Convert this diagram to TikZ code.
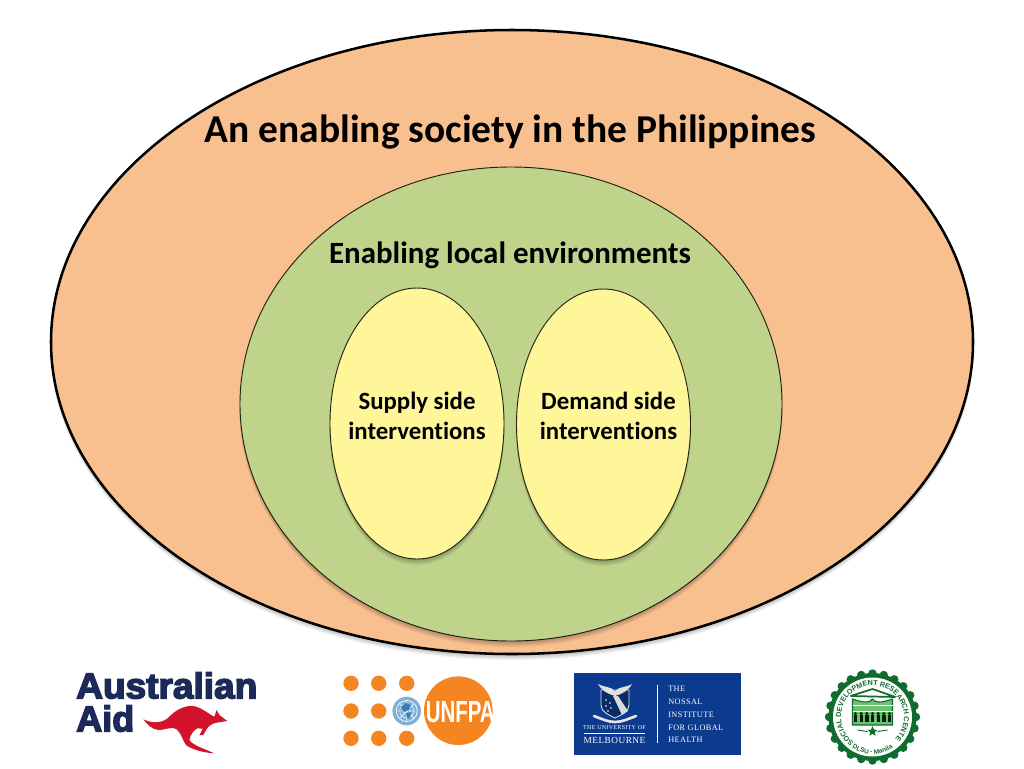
\documentclass[tikz,border=0pt]{standalone}
\usepackage{fontspec}
\usepackage{graphicx}
\usetikzlibrary{shapes.geometric,decorations.text}
\setmainfont[Ligatures=NoCommon]{Carlito}
\newfontfamily\logosans[FakeBold=4]{Liberation Sans Bold}
\newfontfamily\logoserif[LetterSpace=5]{Liberation Serif}
\newfontfamily\sealfont{Liberation Sans Bold}
\definecolor{peach}{HTML}{F9C08F}
\definecolor{leaf}{HTML}{BFD48A}
\definecolor{butter}{HTML}{FFF69A}
\definecolor{ausnavy}{HTML}{1B2A59}
\definecolor{ausred}{HTML}{D3122B}
\definecolor{unorange}{HTML}{F58521}
\definecolor{unblue}{HTML}{7FB1D8}
\definecolor{unblueb}{HTML}{3C7BB3}
\definecolor{melb}{HTML}{0B3A8E}
\definecolor{melbdark}{HTML}{0A2A66}
\definecolor{sealgreen}{HTML}{0F6B2E}
\definecolor{sealmid}{HTML}{6CC070}
\newcommand{\softshadow}[4]{%
  \foreach \k in {1,...,6}{%
    \fill[black,opacity=0.05] (#1,#2+\k*0.9) ellipse [x radius=#3+\k*0.2-0.6, y radius=#4+\k*0.2-0.6];
  }}
\tikzset{
  blob/.style={ellipse,inner sep=0pt,outer sep=0pt,draw=black},
  outerblob/.style={blob,fill=peach,line width=1.9pt,minimum width=691.5pt,minimum height=468pt},
  midblob/.style={blob,fill=leaf,draw=black!85!leaf,line width=0.7pt,minimum width=406.5pt,minimum height=355.5pt},
  smallblob/.style={blob,fill=butter,draw=black!85!butter,line width=0.7pt,minimum width=130.5pt,minimum height=203.25pt},
  label/.style={font=\bfseries,inner sep=0pt,align=center},
  dot/.style={circle,fill=unorange,minimum size=11.5pt,inner sep=0pt},
  melbtext/.style={text=white,inner sep=0pt,font=\logoserif\fontsize{6.2}{7}\selectfont},
}
\begin{document}
\begin{tikzpicture}[x=0.75pt,y=-0.75pt]
\useasboundingbox (0,0) rectangle (1024,768);
\fill[white] (0,0) rectangle (1024,768);

% nested ellipses
\softshadow{512}{342}{461}{312}
\node[outerblob] (society) at (512,342) {};
\softshadow{511}{404}{271}{237}
\node[midblob] (local) at (511,404) {};
\softshadow{417}{423.5}{87}{135.5}
\node[smallblob] (supply) at (417,423.5) {};
\softshadow{603.5}{424.5}{87}{135.5}
\node[smallblob] (demand) at (603.5,424.5) {};

\node[label,font=\bfseries\fontsize{29.6}{34}\selectfont] (title) at (510.5,132) {An enabling society in the Philippines};
\node[label,font=\bfseries\fontsize{23.2}{28}\selectfont] (envtitle) at (510,255.5) {Enabling local environments};
\node[label,font=\bfseries\fontsize{18.6}{23}\selectfont] (supplytext) at (417,416) {Supply side\\interventions};
\node[label,font=\bfseries\fontsize{18.6}{23}\selectfont] (demandtext) at (608.5,416) {Demand side\\interventions};

% Australian Aid
\node[anchor=south west,inner sep=0pt,text=ausnavy] (australian) at (76,699) {\resizebox{135.75pt}{19.5pt}{\logosans Australian}};
\node[anchor=south west,inner sep=0pt,text=ausnavy] (aid) at (76,732) {\resizebox{43.5pt}{19.5pt}{\logosans Aid}};
\begin{scope}[shift={(60,660)},x=0.25pt,y=-0.25pt]
\fill[ausred] (250,178) .. controls (280,192) and (310,190) .. (330,168)
  .. controls (350,148) and (375,136) .. (400,138)
  .. controls (425,142) and (445,162) .. (463,170)
  -- (470,150) -- (478,165) -- (502,183) -- (470,188)
  .. controls (458,190) and (448,196) .. (440,207)
  -- (430,225) -- (418,226) -- (428,206) -- (412,205)
  .. controls (400,212) and (392,222) .. (388,240)
  .. controls (400,258) and (440,268) .. (462,280)
  .. controls (430,278) and (395,268) .. (378,255)
  .. controls (365,235) and (365,222) .. (350,208)
  .. controls (330,198) and (320,210) .. (295,210)
  .. controls (275,208) and (260,192) .. (250,178) -- cycle;
\end{scope}

% UNFPA
\foreach \nm/\px/\py in {a/351/683.3,b/378.7/683.3,c/406.7/683.3,d/351/711,e/378.7/711,f/351/738.3,g/378.7/738.3,h/406.7/738.3}
  \node[dot] (undot\nm) at (\px,\py) {};
\fill[unorange] (458.3,710.7) circle (34.3);
\node[anchor=west,inner sep=0pt,text=white] (unfpa) at (425.5,712) {\resizebox{51.75pt}{15.75pt}{\sealfont UNFPA}};
\fill[unblue] (406.7,711) circle (14.3);
\draw[white,line width=0.5pt] (406.7,711) circle (10.5);
\draw[white,line width=0.35pt] (406.7,711) circle (7) (406.7,711) circle (3.5)
  (396.2,711) -- (417.2,711) (406.7,700.5) -- (406.7,721.5) (399.3,703.6) -- (414.1,718.4) (414.1,703.6) -- (399.3,718.4);
\fill[unblueb] (401,707) -- (406,703) -- (411,705) -- (409,710) -- (404,712) -- cycle (406,713) -- (411,712) -- (410,718) -- (407,718) -- cycle;

% Melbourne
\fill[melb] (574,673) rectangle (741,755);
\draw[white,line width=0.4pt] (657,685) -- (657,743);
\node[melbtext,anchor=west] (mthe) at (668,689) {THE};
\node[melbtext,anchor=west] (mnossal) at (668,702) {NOSSAL};
\node[melbtext,anchor=west] (minstitute) at (668,715) {INSTITUTE};
\node[melbtext,anchor=west] (mfor) at (668,728) {FOR GLOBAL};
\node[melbtext,anchor=west] (mhealth) at (668,740) {HEALTH};
\node[text=white,inner sep=0pt,font=\logoserif\fontsize{4.5}{6}\selectfont] (muni) at (614.5,727.5) {THE UNIVERSITY OF};
\draw[white,line width=0.3pt] (584,733) -- (645,733);
\node[text=white,inner sep=0pt,font=\logoserif\fontsize{7}{8}\selectfont] (mmelb) at (614.5,740) {MELBOURNE};
% crest
\fill[melbdark,draw=black!10!white,line width=0.6pt] (601,690) -- (629,690) -- (629,705) .. controls (629,712) and (621,715) .. (615,718) .. controls (609,715) and (601,712) .. (601,705) -- cycle;
\fill[black!12!white] (598,684) .. controls (606,688) and (610,686) .. (615,691) .. controls (620,686) and (625,688) .. (632,684) .. controls (628,691) and (622,694) .. (615,696) .. controls (608,694) and (602,691) .. (598,684) -- cycle;
\fill[black!15!white] (613,696) -- (618,696) -- (628,711) -- (622,715) -- cycle;
\foreach \sx/\sy in {606/700,610/703,606/706,611/708,608/711}
  \fill[white] (\sx,\sy) circle (0.9);
\draw[black!10!white,line width=2pt,line cap=round] (594,716) .. controls (602,719) and (608,722) .. (615,722) .. controls (622,722) and (628,719) .. (636,716);

% seal
\begin{scope}[shift={(872.5,717)},x=0.75pt,y=0.75pt]
\foreach \a in {0,15,...,345}
  \fill[sealgreen] (\a:43.5) circle (4.2);
\fill[sealgreen] (0,0) circle (44);
\fill[white] (0,0) circle (39.5);
\path[decorate,decoration={text along path,text align=center,text={|\sealfont\fontsize{5.4}{6}\selectfont\color{sealgreen}|SOCIAL DEVELOPMENT RESEARCH CENTER}}]
  (222:31.5) arc (222:-42:31.5);
\path[decorate,decoration={text along path,text align=center,text={|\sealfont\fontsize{4.8}{6}\selectfont\color{sealgreen}|DLSU - Manila}}]
  (232:37) arc (232:308:37);
\fill[sealmid,draw=sealgreen,line width=0.8pt] (-20,18) -- (-20,-8) -- (20,-8) -- (20,18) .. controls (8,14) and (3,14) .. (0,18) .. controls (-3,14) and (-8,14) .. (-20,18) -- cycle;
\draw[sealgreen,line width=1.3pt] (-22,21) -- (0,28) -- (23,20) (-22,21) -- (23,20);
\draw[white,line width=0.35pt] (-20,12) -- (20,12) (-20,6) -- (20,6);
\foreach \sx in {-17,-11.3,-5.7,0,5.7,11.3,17}{
  \fill[black!70!sealgreen] (\sx,3.5) circle (1.7);
  \fill[black!70!sealgreen] (\sx-1.7,1.8) rectangle (\sx+1.7,-5);
}
\node[star,star points=5,star point ratio=2.3,fill=sealgreen,minimum size=8pt,inner sep=0pt] (sealstar) at (0,-14.5) {};
\draw[sealgreen,line width=0.7pt] (-15,-13) -- (-5,-14.5) (5,-14.5) -- (15,-13);
\end{scope}
\end{tikzpicture}
\end{document}
